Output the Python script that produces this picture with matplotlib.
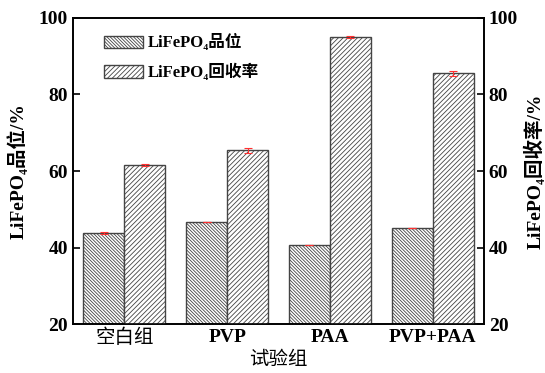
import numpy as np
import matplotlib
matplotlib.use('Agg')
import matplotlib.pyplot as plt
from matplotlib.patches import Patch

plt.rcParams['font.family'] = ['Liberation Serif', 'DejaVu Serif', 'Noto Sans CJK SC']
plt.rcParams['font.weight'] = 'bold'
plt.rcParams['hatch.linewidth'] = 0.6
plt.rcParams['hatch.color'] = '#606060'

groups = ['空白组', 'PVP', 'PAA', 'PVP+PAA']
grade = [43.8, 46.7, 40.65, 45.1]
grade_err = [0.3, 0.1, 0.1, 0.1]
recovery = [61.5, 65.4, 95.0, 85.5]
recovery_err = [0.3, 0.6, 0.2, 0.75]

x = np.arange(len(groups))
w = 0.4
h_grade = '\\' * 10
h_rec = '/' * 7

fig = plt.figure(figsize=(5.45, 3.73), dpi=100)
ax = fig.add_axes([0.134, 0.131, 0.754, 0.821])
ax2 = ax.twinx()

ax.bar(x - w / 2, grade, w, color='white', edgecolor='#444444',
       linewidth=1, hatch=h_grade, zorder=2)
ax.errorbar(x - w / 2, grade, yerr=grade_err, fmt='none', ecolor='#ff3030',
            elinewidth=0.8, capsize=3, capthick=0.8, zorder=3)
ax2.bar(x + w / 2, recovery, w, color='white', edgecolor='#444444',
        linewidth=1, hatch=h_rec, zorder=2)
ax2.errorbar(x + w / 2, recovery, yerr=recovery_err, fmt='none', ecolor='#ff3030',
             elinewidth=0.8, capsize=3, capthick=0.8, zorder=3)

for a in (ax, ax2):
    a.set_ylim(20, 100)
    a.set_yticks([20, 40, 60, 80, 100])
    a.tick_params(axis='y', direction='in', length=5, width=1.2, labelsize=14)
    for s in a.spines.values():
        s.set_linewidth(1.2)
ax.set_xlim(-0.5, 3.5)
ax.set_xticks(x)
ax.set_xticklabels(groups)
ax.tick_params(axis='x', direction='in', length=5, width=1.2, labelsize=14)
ax.get_xticklabels()[0].set_fontweight('normal')
ax.set_xlabel('试验组', fontsize=14, labelpad=3)
ax.set_ylabel('LiFePO₄品位/%', fontsize=14, fontweight='bold', labelpad=8)
ax2.set_ylabel('LiFePO₄回收率/%', fontsize=14, fontweight='bold', labelpad=4)

handles = [Patch(facecolor='white', edgecolor='#444444', hatch=h_grade),
           Patch(facecolor='white', edgecolor='#444444', hatch=h_rec)]
ax.legend(handles, ['LiFePO₄品位', 'LiFePO₄回收率'], loc='upper left',
          bbox_to_anchor=(0.04, 0.995), frameon=False, fontsize=12,
          handlelength=2.3, handleheight=0.75, handletextpad=0.3, labelspacing=0.75)

fig.savefig('out.png', dpi=100)
